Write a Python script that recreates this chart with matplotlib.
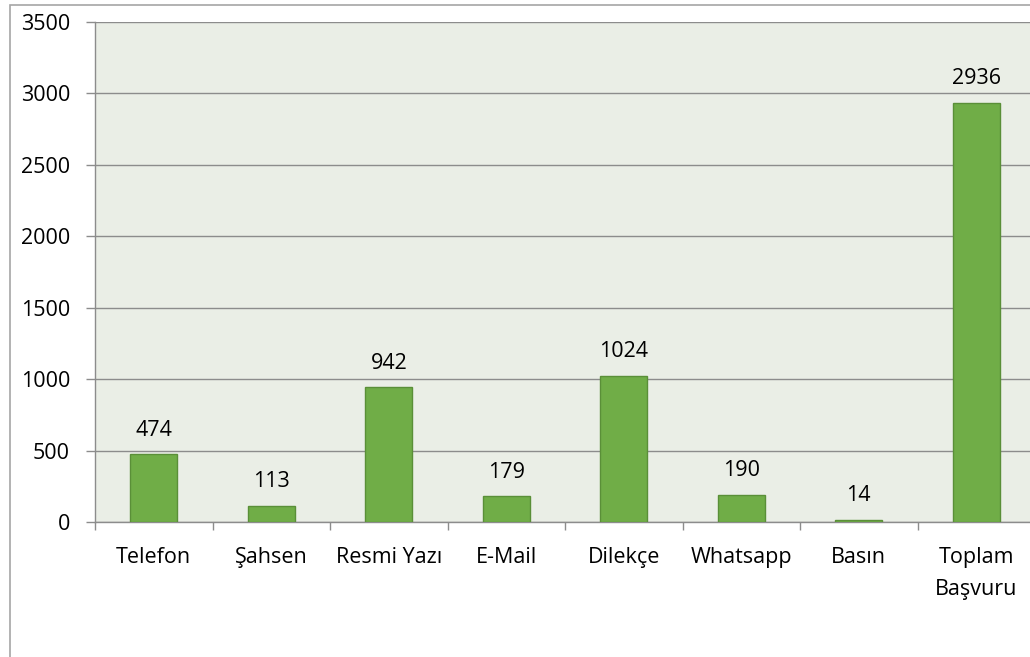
import matplotlib.pyplot as plt
from matplotlib.patches import Rectangle

categories = ["Telefon", "Şahsen", "Resmi Yazı", "E-Mail", "Dilekçe",
              "Whatsapp", "Basın", "Toplam\nBaşvuru"]
values = [474, 113, 942, 179, 1024, 190, 14, 2936]
yticks = [0, 500, 1000, 1500, 2000, 2500, 3000, 3500]

plt.rcParams['font.family'] = ['Open Sans', 'DejaVu Sans']
fs = 15.5

fig = plt.figure(figsize=(10.30, 6.57), dpi=100)
# outer chart frame
fig.patches.append(Rectangle((10 / 1030, -0.1), 1.2, 1.1 - 5 / 657,
                             transform=fig.transFigure, fill=False,
                             edgecolor='#a6a6a6', linewidth=1.2))

ax = fig.add_axes([95 / 1030, 135 / 657, 940 / 1030, 500 / 657])
ax.set_facecolor('#eaeee6')

x = range(len(categories))
ax.bar(x, values, width=0.4, color='#70ad47', edgecolor='#5a8f38', linewidth=1, zorder=3)
for xi, v in zip(x, values):
    ax.text(xi, v + 95, str(v), ha='center', va='bottom', fontsize=fs, color='black')

ax.set_xlim(-0.5, len(categories) - 0.5)
ax.set_ylim(0, 3500)
ax.set_yticks(yticks)
ax.set_yticklabels([str(t) for t in yticks], fontsize=fs)
ax.yaxis.grid(True, color='#8c8c8c', linewidth=1, zorder=0)
ax.set_axisbelow(True)

ax.set_xticks(list(x))
ax.set_xticklabels(categories, fontsize=fs, linespacing=1.7, va='top')
ax.tick_params(axis='x', length=0, pad=18)
ax.set_xticks([i + 0.5 for i in range(-1, len(categories))], minor=True)
ax.tick_params(axis='x', which='minor', length=6, color='#8c8c8c', width=1)
ax.tick_params(axis='y', length=6.5, color='#8c8c8c', width=1, pad=11.5)

for s in ['top', 'right']:
    ax.spines[s].set_visible(False)
for s in ['left', 'bottom']:
    ax.spines[s].set_color('#8c8c8c')
    ax.spines[s].set_linewidth(1)

fig.savefig('out.png', dpi=100)
